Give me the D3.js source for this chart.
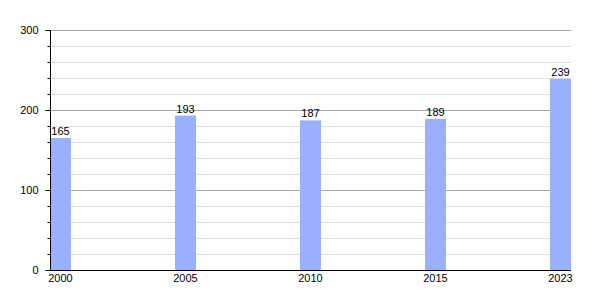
<!DOCTYPE html>
<html>
<head>
<meta charset="utf-8">
<script src="https://cdn.jsdelivr.net/npm/d3@7"></script>
<style>
  body { margin: 0; background: #fff; }
  svg { display: block; font-family: "Liberation Sans", Arial, sans-serif; }
</style>
</head>
<body>
<svg id="vis" width="600" height="300"></svg>
<script>
// chart data
const years = ["2000", "2005", "2010", "2015", "2023"];
const population = [165, 193, 187, 189, 239];
const majorTicks = [0, 100, 200, 300];
const minorTicks = [20, 40, 60, 80, 120, 140, 160, 180, 220, 240, 260, 280];

const svg = d3.select("svg#vis");

const plot = {left: 50, right: 571, top: 30, bottom: 270};
const barWidth = 21;

const x = d3.scalePoint()
  .domain(years)
  .range([plot.left, plot.right - barWidth]);

const y = d3.scaleLinear()
  .domain([0, 300])
  .range([plot.bottom, plot.top]);

// gridlines
svg.append("g").selectAll("line.minor")
  .data(minorTicks)
  .enter()
  .append("line")
  .attr("x1", plot.left).attr("x2", plot.right)
  .attr("y1", d => y(d) + 0.5).attr("y2", d => y(d) + 0.5)
  .attr("stroke", "#e0e0e0");

svg.append("g").selectAll("line.major")
  .data(majorTicks.filter(d => d > 0))
  .enter()
  .append("line")
  .attr("x1", plot.left).attr("x2", plot.right)
  .attr("y1", d => y(d) + 0.5).attr("y2", d => y(d) + 0.5)
  .attr("stroke", "#a8a8a8");

// bars
svg.append("g").selectAll("rect")
  .data(population)
  .enter()
  .append("rect")
  .attr("x", (d, i) => x(years[i]))
  .attr("y", d => y(d))
  .attr("width", barWidth)
  .attr("height", d => y(0) - y(d))
  .attr("fill", "#99b0ff");

// value labels
svg.append("g").selectAll("text")
  .data(population)
  .enter()
  .append("text")
  .attr("x", (d, i) => x(years[i]) + barWidth / 2)
  .attr("y", d => y(d) - 3)
  .attr("text-anchor", "middle")
  .attr("font-size", 11)
  .text(d => d);

// y axis
const yAxis = svg.append("g")
  .attr("transform", "translate(" + (plot.left + 0.5) + ",0)")
  .call(d3.axisLeft(y).tickValues(majorTicks).tickSize(5).tickPadding(7).tickFormat(d3.format("d")));
yAxis.select(".domain").attr("d", "M0," + plot.top + "V" + plot.bottom);
yAxis.selectAll("text").attr("font-size", 11).attr("font-family", "Liberation Sans, Arial, sans-serif").attr("fill", "#000");

svg.append("g")
  .attr("transform", "translate(" + (plot.left + 0.5) + ",0)")
  .selectAll("line")
  .data(minorTicks)
  .enter()
  .append("line")
  .attr("x1", -3).attr("x2", 0)
  .attr("y1", d => y(d) + 0.5).attr("y2", d => y(d) + 0.5)
  .attr("stroke", "#000");

// x axis line and labels
svg.append("line")
  .attr("x1", plot.left).attr("x2", plot.right)
  .attr("y1", plot.bottom + 0.5).attr("y2", plot.bottom + 0.5)
  .attr("stroke", "#000");

svg.append("g").selectAll("text")
  .data(years)
  .enter()
  .append("text")
  .attr("x", d => x(d) + barWidth / 2)
  .attr("y", plot.bottom + 12)
  .attr("text-anchor", "middle")
  .attr("font-size", 11)
  .text(d => d);
</script>
</body>
</html>
